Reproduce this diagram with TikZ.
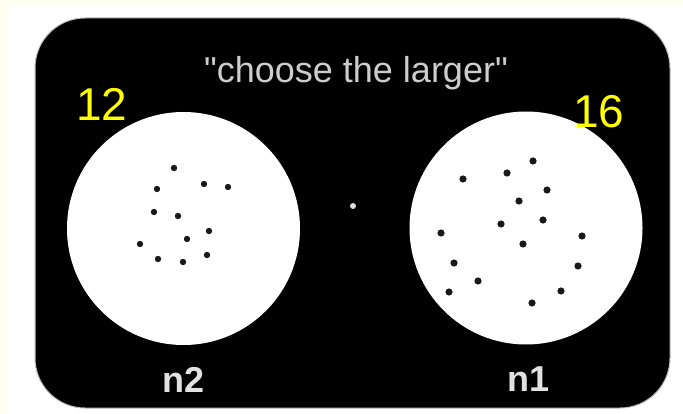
\documentclass[tikz,border=0pt]{standalone}
\usepackage{fontspec}
\setmainfont{Liberation Sans}
\newfontfamily\captionfont{Liberation Sans}
\definecolor{pagecream}{RGB}{255, 255, 242}
\definecolor{captiongray}{RGB}{205, 205, 205}
\definecolor{labelgray}{RGB}{225, 225, 225}
\definecolor{countyellow}{RGB}{255, 255, 0}
\definecolor{dotgray}{RGB}{25, 25, 25}
\usetikzlibrary{positioning}
\tikzset{
    panel/.style={fill=black, draw=gray!50, line width=1pt, rounded corners=50pt},
    disc/.style={circle, fill=white, minimum size=233pt, inner sep=0pt},
    caption/.style={text=captiongray, font=\captionfont\fontsize{36}{40}\selectfont, inner sep=0pt},
    countlabel/.style={text=countyellow, font=\fontsize{46}{50}\selectfont, inner sep=0pt},
    setlabel/.style={text=labelgray, font=\bfseries\fontsize{36}{40}\selectfont, inner sep=0pt},
    fixdot/.style={circle, fill=gray!25, minimum size=6pt, inner sep=0pt},
}

\begin{document}
\begin{tikzpicture}[x=1pt, y=-1pt]
    \useasboundingbox (0,0) rectangle (683,414);
    \fill[pagecream] (0,0) rectangle (683,414);
    \fill[white] (8,5) rectangle (683,414);
    \draw[panel] (35,18) rectangle (670,408);

    % the two dot arrays
    \node[disc] (left) at (183.5,228.5) {};
    \node[disc] (right) at (526,228) {};
    \node[fixdot] (fix) at (353,206) {};

    \node[caption, anchor=base] (title) at (356,83) {"choose the larger"};
    \node[countlabel] (nleft) at (102,104) {12};
    \node[countlabel] (nright) at (599,112) {16};
    \node[setlabel, below=22pt of left] (ntwo) {n2};
    \node[setlabel, below=22pt of right, xshift=3pt] (none) {n1};

    % 12 dots
    \foreach \x/\y in {174/168, 204/184, 228/187, 157/189, 154/212, 178/216,
                       209/231, 187/239, 140/244, 207/255, 158/259, 183/262}
        \fill[dotgray] (\x,\y) circle (3.2pt);
    % 16 dots
    \foreach \x/\y in {533/161, 507/173, 463/179, 547/190, 519/201, 543/220,
                       501/224, 441/233, 582/236, 523/244, 454/263, 578/266,
                       478/281, 449/292, 561/291, 532/303}
        \fill[dotgray] (\x,\y) circle (3.6pt);
\end{tikzpicture}
\end{document}
